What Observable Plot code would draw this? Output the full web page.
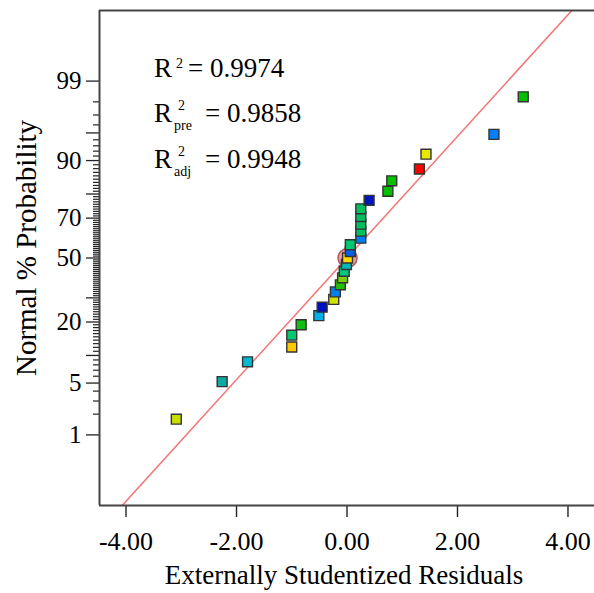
<!DOCTYPE html>
<html><head><meta charset="utf-8">
<script src="https://cdn.jsdelivr.net/npm/d3@7"></script>
<script src="https://cdn.jsdelivr.net/npm/@observablehq/plot@0.6"></script>
<style>
html,body{margin:0;padding:0;background:#fff;overflow:hidden;}
</style></head><body><div id="chart"></div>
<script>
// Externally studentized residuals (sorted) and their normal % probabilities
const residuals = [-3.09, -2.26, -1.80, -1.00, -1.00, -0.83, -0.51, -0.45, -0.24, -0.21, -0.12, -0.08, -0.05, -0.01, 0.01, 0.06, 0.06, 0.25, 0.25, 0.25, 0.25, 0.25, 0.40, 0.74, 0.81, 1.31, 1.43, 2.66, 3.19];
const normalPct = [1.7, 5.2, 8.6, 12.1, 15.5, 19.0, 22.4, 25.9, 29.3, 32.8, 36.2, 39.7, 43.1, 46.6, 50.0, 53.4, 56.9, 60.3, 63.8, 67.2, 70.7, 74.1, 77.6, 81.0, 84.5, 87.9, 91.4, 94.8, 98.3];
const pointColors = ["#c8dc00", "#10a8a0", "#00b8d0", "#ffc800", "#00c870", "#10c010", "#00b0e8", "#0010c0", "#d0e000", "#0080f0", "#20c000", "#80d000", "#00c880", "#00b8b8", "#ffd800", "#0060e8", "#00c870", "#0080f0", "#00c060", "#00c060", "#00c060", "#00c060", "#0018b8", "#00c000", "#00c000", "#ff0000", "#e8e800", "#0080ff", "#00c000"];
const flaggedRank = [15];
const fitResid = [-4.6, 4.6];
const fitPct = [0.0117, 99.9883];
const xTicks = [-4, -2, 0, 2, 4];
const yTickLabels = [1, 5, 20, 50, 70, 90, 99];
const yLongUnlabeled = [10, 30, 80, 95];
const rLabels = [["2", "", "= 0.9974"], ["2", "pre", "= 0.9858"], ["2", "adj", "= 0.9948"]];

function probit(p){
  const a=[-3.969683028665376e+01,2.209460984245205e+02,-2.759285104469687e+02,1.383577518672690e+02,-3.066479806614716e+01,2.506628277459239e+00];
  const b=[-5.447609879822406e+01,1.615858368580409e+02,-1.556989798598866e+02,6.680131188771972e+01,-1.328068155288572e+01];
  const c=[-7.784894002430293e-03,-3.223964580411365e-01,-2.400758277161838e+00,-2.549732539343734e+00,4.374664141464968e+00,2.938163982698783e+00];
  const d=[7.784695709041462e-03,3.224671290700398e-01,2.445134137142996e+00,3.754408661907416e+00];
  const pl=0.02425, ph=1-pl; let q,r;
  if(p<pl){q=Math.sqrt(-2*Math.log(p));return (((((c[0]*q+c[1])*q+c[2])*q+c[3])*q+c[4])*q+c[5])/((((d[0]*q+d[1])*q+d[2])*q+d[3])*q+1);}
  if(p>ph){q=Math.sqrt(-2*Math.log(1-p));return -(((((c[0]*q+c[1])*q+c[2])*q+c[3])*q+c[4])*q+c[5])/((((d[0]*q+d[1])*q+d[2])*q+d[3])*q+1);}
  q=p-0.5;r=q*q;return (((((a[0]*r+a[1])*r+a[2])*r+a[3])*r+a[4])*r+a[5])*q/(((((b[0]*r+b[1])*r+b[2])*r+b[3])*r+b[4])*r+1);
}
const z = pct => probit(pct/100);

const xDomain = [-4.48, 4.48];
const yDomain = [-3.255, 3.255];

const labelZ = yTickLabels.map(z);
const labelMap = new Map(labelZ.map((v,i)=>[v, String(yTickLabels[i])]));
const longZ = yLongUnlabeled.map(z);
const minorPct = d3.range(1, 100).filter(p => !yTickLabels.includes(p) && !yLongUnlabeled.includes(p));
const minorZ = minorPct.map(z);
const idx = d3.range(residuals.length);
const fitData = fitResid.map((r,i)=>({r, p: fitPct[i]}));

const FONT = "Liberation Serif";
const plot = Plot.plot({
  width: 594, height: 593,
  marginTop: 10, marginBottom: 88, marginLeft: 99, marginRight: 0,
  style: {fontFamily: FONT, fontSize: "25px", color: "#000", background: "#fff"},
  x: {domain: xDomain},
  y: {domain: yDomain},
  color: {type: "identity"},
  marks: [
    Plot.line(fitData, {x: "r", y: d => z(d.p), stroke: "#f27a7a", strokeWidth: 1.6, clip: true}),
    Plot.axisX(xTicks, {tickSize: 12, tickPadding: 14, tickFormat: d => d.toFixed(2), fontSize: 26, stroke: "#222", strokeWidth: 1.4, label: null}),
    Plot.axisY(labelZ, {tickSize: 13, tickPadding: 5, tickFormat: v => labelMap.get(v), fontSize: 25, stroke: "#222", strokeWidth: 1.3, label: null}),
    Plot.axisY(longZ, {tickSize: 13, tickFormat: () => "", stroke: "#222", strokeWidth: 1.3, label: null}),
    Plot.axisY(minorZ, {tickSize: 6, tickFormat: () => "", stroke: "#222", strokeWidth: 1.2, label: null}),
    Plot.ruleX([xDomain[0]], {stroke: "#444", strokeWidth: 2}),
    Plot.ruleY([yDomain[0], yDomain[1]], {stroke: "#444", strokeWidth: 2}),
    Plot.dot(flaggedRank, {x: r => residuals[r-1], y: r => z(normalPct[r-1]), r: 9.5, fill: "#e8a0a0", stroke: "#b05858", strokeWidth: 1.5}),
    Plot.dot(idx, {x: i => residuals[i], y: i => z(normalPct[i]), symbol: "square", r: 5.6, fill: i => pointColors[i], stroke: "#333", strokeWidth: 1.4})
  ]
});
document.getElementById("chart").appendChild(plot);

const svg = d3.select(plot);
// R-squared annotations
const baseY = [77, 122, 168];
rLabels.forEach((lab, i) => {
  const g = svg.append("g").attr("font-family", FONT).attr("fill", "#000").attr("text-anchor", "start");
  g.append("text").attr("x", 154).attr("y", baseY[i]).attr("font-size", 27).text("R");
  g.append("text").attr("x", i === 0 ? 176 : 178).attr("y", baseY[i] - (i === 0 ? 9 : 12)).attr("font-size", 14).text(lab[0]);
  if (lab[1]) g.append("text").attr("x", 174).attr("y", baseY[i] + 8).attr("font-size", 14).text(lab[1]);
  g.append("text").attr("x", i === 0 ? 188 : 205).attr("y", baseY[i]).attr("font-size", 27).text(lab[2]);
});
// axis titles
svg.append("text").attr("font-family", FONT).attr("font-size", 27).attr("text-anchor", "middle")
  .attr("x", 344).attr("y", 584).text("Externally Studentized Residuals");
svg.append("text").attr("font-family", FONT).attr("font-size", 29).attr("text-anchor", "middle")
  .attr("transform", "translate(36,248) rotate(-90)").text("Normal % Probability");
</script></body></html>
